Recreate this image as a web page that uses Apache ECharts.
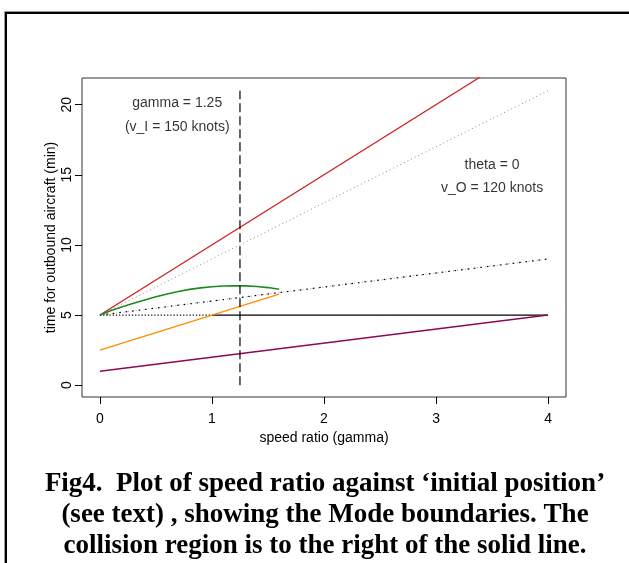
<!DOCTYPE html>
<html>
<head>
<meta charset="utf-8">
<script src="https://cdn.jsdelivr.net/npm/echarts@6/dist/echarts.min.js"></script>
<style>
  html, body { margin: 0; padding: 0; background: #fff; }
  #chart { width: 629px; height: 563px; }
</style>
</head>
<body>
<div id="chart"></div>
<script>
const chartDom = document.getElementById('chart');
const myChart = echarts.init(chartDom);

// tick positions
const gammaTicks = [0, 1, 2, 3, 4];
const timeTicks = [0, 5, 10, 15, 20];

// boundary lines, [gamma, time]
const redLine = [[0, 5], [4, 25]];
const grayUpper = [[0, 5], [4, 21]];
const midDotted = [[0, 5], [4, 9]];
const baseDotted = [[0, 5], [1, 5]];
const baseSolid = [[1, 5], [4, 5]];
const greenCurve = [
    [0, 5.0], [0.1, 5.32], [0.2, 5.6], [0.3, 5.85], [0.4, 6.08], [0.5, 6.3],
    [0.6, 6.5], [0.7, 6.68], [0.8, 6.83], [0.9, 6.94], [1.0, 7.02], [1.1, 7.07],
    [1.2, 7.09], [1.3, 7.08], [1.4, 7.04], [1.5, 6.96], [1.6, 6.84]
];
const orangeLine = [[0, 2.5], [1.6, 6.5]];
const maroonLine = [[0, 1], [4, 5]];
const gammaMarker = [[1.25, 0], [1.25, 21]];

// text notes placed in data coordinates
const notes = [
    { value: [0.69, 20.1], name: 'gamma = 1.25' },
    { value: [0.69, 18.4], name: '(v_I = 150 knots)' },
    { value: [3.5, 15.7], name: 'theta = 0' },
    { value: [3.5, 14.05], name: 'v_O = 120 knots' }
];

const captionLines = [
    'Fig4.  Plot of speed ratio against \u2018initial position\u2019',
    '(see text) , showing the Mode boundaries. The',
    'collision region is to the right of the solid line.'
];

const sans = 'Liberation Sans, Arial, sans-serif';

function line(data, color, type, width, z) {
    return {
        type: 'line',
        data: data,
        showSymbol: false,
        silent: true,
        z: z || 2,
        lineStyle: { color: color, type: type || 'solid', width: width || 1.2 }
    };
}

const option = {
    animation: false,
    backgroundColor: '#fff',
    grid: {
        left: 82, right: 63, top: 78, bottom: 166,
        show: true, borderColor: '#333', borderWidth: 1
    },
    xAxis: {
        type: 'value',
        min: -0.16,
        max: 4.16,
        name: 'speed ratio (gamma)',
        nameLocation: 'middle',
        nameGap: 34,
        nameTextStyle: { fontFamily: sans, fontSize: 14, color: '#000' },
        axisLine: { show: false, onZero: false },
        splitLine: { show: false },
        axisTick: { show: true, customValues: gammaTicks, length: 7, lineStyle: { color: '#000' } },
        axisLabel: { customValues: gammaTicks, margin: 15, fontFamily: sans, fontSize: 14, color: '#000' }
    },
    yAxis: {
        type: 'value',
        min: -0.84,
        max: 21.9,
        name: 'time for outbound aircraft (min)',
        nameLocation: 'middle',
        nameRotate: 90,
        nameGap: 24,
        nameMoveOverlap: false,
        nameTextStyle: { fontFamily: sans, fontSize: 14, color: '#000' },
        axisLine: { show: false, onZero: false },
        splitLine: { show: false },
        axisTick: { show: true, customValues: timeTicks, length: 7, lineStyle: { color: '#000' } },
        axisLabel: { customValues: timeTicks, rotate: 90, margin: 8, fontFamily: sans, fontSize: 14, color: '#000' }
    },
    series: [
        line(grayUpper, '#888', [1, 3], 1),
        line(midDotted, '#999', [1, 3], 1),
        line(midDotted, '#000', [1.5, 5], 1.2),
        line(baseDotted, '#000', [1.2, 2], 1.2),
        line(baseSolid, '#000', 'solid', 1.2),
        line(redLine, '#d01818', 'solid', 1.2, 3),
        line(greenCurve, '#1e8a1e', 'solid', 1.6, 3),
        line(orangeLine, '#ff8c00', 'solid', 1.3, 3),
        line(maroonLine, '#8b0a50', 'solid', 1.5, 3),
        line(gammaMarker, '#000', [9, 4], 1.2, 4),
        {
            type: 'scatter',
            data: notes,
            symbolSize: 1,
            silent: true,
            itemStyle: { color: 'transparent' },
            label: {
                show: true,
                position: 'inside',
                formatter: '{b}',
                fontFamily: sans,
                fontSize: 14,
                color: '#000',
                textBorderWidth: 0
            }
        }
    ],
    graphic: [
        {
            type: 'rect',
            shape: { x: 4.5, y: 11.5, width: 800, height: 800 },
            style: { fill: 'none', stroke: '#999', lineWidth: 1 },
            silent: true
        },
        {
            type: 'rect',
            shape: { x: 6, y: 13, width: 800, height: 800 },
            style: { fill: 'none', stroke: '#000', lineWidth: 2 },
            silent: true
        }
    ].concat(captionLines.map(function (t, i) {
        return {
            type: 'text',
            x: 325,
            y: 484 + i * 31,
            silent: true,
            style: {
                text: t,
                fill: '#000',
                font: 'bold 27px "Liberation Serif", "Times New Roman", serif',
                textAlign: 'center',
                textVerticalAlign: 'middle'
            }
        };
    }))
};

myChart.setOption(option);
</script>
</body>
</html>
